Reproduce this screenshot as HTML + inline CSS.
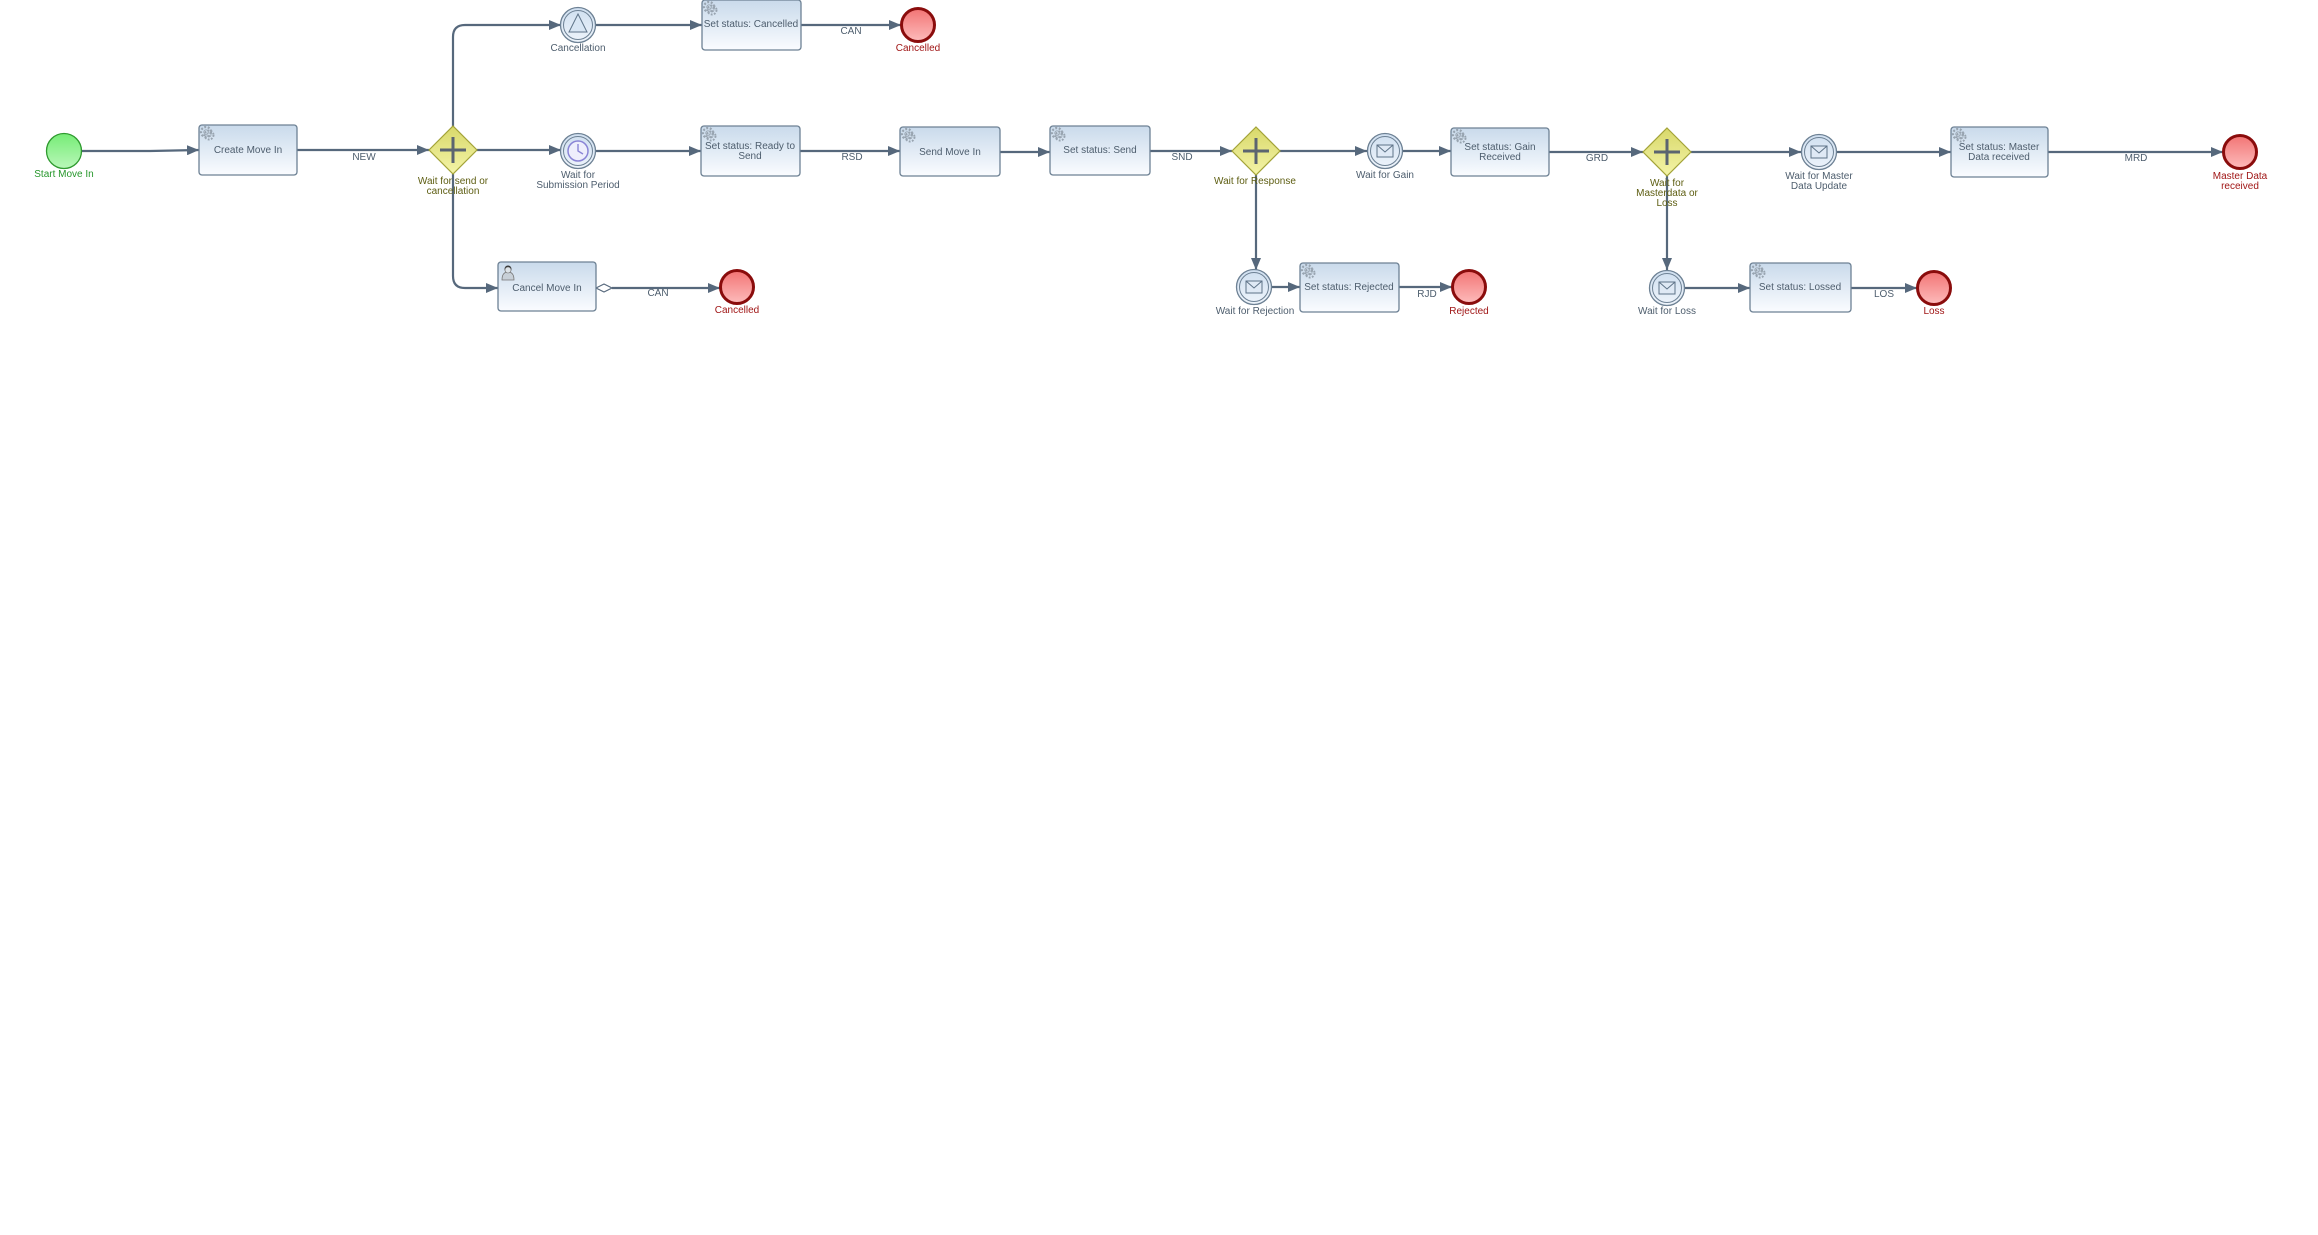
<!DOCTYPE html>
<html><head><meta charset="utf-8">
<style>
html,body{margin:0;padding:0;background:#fff;width:2318px;height:1235px;overflow:hidden}
svg{display:block}
text{font-family:"Liberation Sans",Arial,sans-serif;font-size:10px;fill:#4d5d6d}
.c{text-anchor:middle}
.gw{fill:#5e5e12}
.en{fill:#a01616}
.st{fill:#25962a}
.ln{stroke:#56687c;stroke-width:2.2;fill:none}
.box{fill:url(#gb);stroke:#6d8194;stroke-width:1.3}
</style></head><body>
<svg width="2318" height="1235" viewBox="0 0 2318 1235" xmlns="http://www.w3.org/2000/svg">
<defs>
<linearGradient id="gb" x1="0" y1="0" x2="0" y2="1"><stop offset="0" stop-color="#c9daeb"/><stop offset="1" stop-color="#fafcff"/></linearGradient>
<linearGradient id="gr" x1="0" y1="0" x2="0" y2="1"><stop offset="0" stop-color="#f27474"/><stop offset="1" stop-color="#fdbcbc"/></linearGradient>
<linearGradient id="gg" x1="0" y1="0" x2="0" y2="1"><stop offset="0" stop-color="#76ec76"/><stop offset="1" stop-color="#b9f7b9"/></linearGradient>
<linearGradient id="gy" x1="0" y1="0" x2="0" y2="1"><stop offset="0" stop-color="#d8d86a"/><stop offset="1" stop-color="#f4f4a8"/></linearGradient>
<linearGradient id="gc" x1="0" y1="0" x2="0" y2="1"><stop offset="0" stop-color="#cfdff0"/><stop offset="1" stop-color="#eef4fb"/></linearGradient>
<marker id="a" markerWidth="12" markerHeight="10" refX="12" refY="5" orient="auto" markerUnits="userSpaceOnUse"><path d="M0,0 L12,5 L0,10 z" fill="#56687c"/></marker>
<g id="gear"><circle r="5" fill="none" stroke="#98a4b0" stroke-width="2.2" stroke-dasharray="2 1.6"/><circle r="2.2" fill="none" stroke="#98a4b0" stroke-width="0.9"/></g>
<g id="gear2"><use href="#gear" x="6" y="6"/><use href="#gear" x="10" y="10" transform="scale(0.9)"/></g>
<g id="ic"><circle r="17.5" fill="url(#gc)" stroke="#6d8194" stroke-width="1.3"/><circle r="14.5" fill="none" stroke="#6d8194" stroke-width="1"/></g>
<g id="env"><use href="#ic"/><rect x="-8" y="-6" width="16" height="12" fill="#dfe9f5" stroke="#5e7388" stroke-width="1"/><path d="M-8,-6 L0,1 L8,-6" fill="none" stroke="#5e7388" stroke-width="1"/></g>
<g id="gate"><path d="M0,-24 L24,0 L0,24 L-24,0 z" fill="url(#gy)" stroke="#a3a338" stroke-width="1.2"/><path d="M-13,0 H13 M0,-13 V13" stroke="#5b6470" stroke-width="3"/></g>
<g id="end"><circle r="16.5" fill="url(#gr)" stroke="#8a0c0c" stroke-width="3"/></g>
</defs>

<!-- connectors -->
<path class="ln" d="M82,151 H150 L199,150" marker-end="url(#a)"/>
<path class="ln" d="M297,150 H429" marker-end="url(#a)"/>
<path class="ln" d="M477,150 H561" marker-end="url(#a)"/>
<path class="ln" d="M596,151 H701" marker-end="url(#a)"/>
<path class="ln" d="M453,127 V37 Q453,25 465,25 H561" marker-end="url(#a)"/>
<path class="ln" d="M596,25 H702" marker-end="url(#a)"/>
<path class="ln" d="M801,25 H901" marker-end="url(#a)"/>
<path class="ln" d="M453,174 V276 Q453,288 465,288 H498" marker-end="url(#a)"/>
<path class="ln" d="M612,288 H720" marker-end="url(#a)"/>
<path d="M596,288 L604,284 L612,288 L604,292 z" fill="#fff" stroke="#56687c" stroke-width="1.2"/>
<path class="ln" d="M800,151 H900" marker-end="url(#a)"/>
<path class="ln" d="M1000,152 H1050" marker-end="url(#a)"/>
<path class="ln" d="M1146,151 H1232" marker-end="url(#a)"/>
<path class="ln" d="M1280,151 H1367" marker-end="url(#a)"/>
<path class="ln" d="M1403,151 H1451" marker-end="url(#a)"/>
<path class="ln" d="M1256,175 V270" marker-end="url(#a)"/>
<path class="ln" d="M1272,287 H1300" marker-end="url(#a)"/>
<path class="ln" d="M1399,287 H1452" marker-end="url(#a)"/>
<path class="ln" d="M1549,152 H1643" marker-end="url(#a)"/>
<path class="ln" d="M1691,152 H1801" marker-end="url(#a)"/>
<path class="ln" d="M1837,152 H1951" marker-end="url(#a)"/>
<path class="ln" d="M2048,152 H2223" marker-end="url(#a)"/>
<path class="ln" d="M1667,176 V270" marker-end="url(#a)"/>
<path class="ln" d="M1685,288 H1750" marker-end="url(#a)"/>
<path class="ln" d="M1851,288 H1917" marker-end="url(#a)"/>

<!-- start -->
<circle cx="64" cy="151" r="17.5" fill="url(#gg)" stroke="#2f9a2f" stroke-width="1.3"/>
<text x="64" y="177" class="c st">Start Move In</text>

<!-- tasks -->
<rect class="box" x="199" y="125" width="98" height="50" rx="3"/><use href="#gear2" x="200" y="126"/>
<text x="248" y="153" class="c">Create Move In</text>

<rect class="box" x="702" y="0" width="99" height="50" rx="3"/><use href="#gear2" x="703" y="1"/>
<text x="751" y="27" class="c">Set status: Cancelled</text>

<rect class="box" x="701" y="126" width="99" height="50" rx="3"/><use href="#gear2" x="702" y="127"/>
<text x="750" y="149" class="c">Set status: Ready to</text><text x="750" y="159" class="c">Send</text>

<rect class="box" x="498" y="262" width="98" height="49" rx="3"/>
<g transform="translate(508,272)"><circle cx="0" cy="-3" r="3.5" fill="#333"/><path d="M-6,8 Q-6,0 0,0 Q6,0 6,8 z" fill="#c8d0d8" stroke="#777" stroke-width="0.8"/><circle cx="0" cy="-2" r="3" fill="#dde3e8" stroke="#777" stroke-width="0.6"/></g>
<text x="547" y="291" class="c">Cancel Move In</text>

<rect class="box" x="900" y="127" width="100" height="49" rx="3"/><use href="#gear2" x="901" y="128"/>
<text x="950" y="155" class="c">Send Move In</text>

<rect class="box" x="1050" y="126" width="100" height="49" rx="3"/><use href="#gear2" x="1051" y="127"/>
<text x="1100" y="153" class="c">Set status: Send</text>

<rect class="box" x="1451" y="128" width="98" height="48" rx="3"/><use href="#gear2" x="1452" y="129"/>
<text x="1500" y="150" class="c">Set status: Gain</text><text x="1500" y="160" class="c">Received</text>

<rect class="box" x="1300" y="263" width="99" height="49" rx="3"/><use href="#gear2" x="1301" y="264"/>
<text x="1349" y="290" class="c">Set status: Rejected</text>

<rect class="box" x="1951" y="127" width="97" height="50" rx="3"/><use href="#gear2" x="1952" y="128"/>
<text x="1999" y="150" class="c">Set status: Master</text><text x="1999" y="160" class="c">Data received</text>

<rect class="box" x="1750" y="263" width="101" height="49" rx="3"/><use href="#gear2" x="1751" y="264"/>
<text x="1800" y="290" class="c">Set status: Lossed</text>

<!-- gateways -->
<use href="#gate" x="453" y="150"/>
<text x="453" y="184" class="c gw">Wait for send or</text><text x="453" y="194" class="c gw">cancellation</text>
<use href="#gate" x="1256" y="151"/>
<text x="1255" y="184" class="c gw">Wait for Response</text>
<use href="#gate" x="1667" y="152"/>
<text x="1667" y="186" class="c gw">Wait for</text><text x="1667" y="196" class="c gw">Masterdata or</text><text x="1667" y="206" class="c gw">Loss</text>

<!-- intermediate events -->
<g transform="translate(578,25)"><use href="#ic"/><path d="M0,-11 L9,7 L-9,7 z" fill="#d8e6f4" stroke="#5e7388" stroke-width="1"/></g>
<text x="578" y="51" class="c">Cancellation</text>
<g transform="translate(578,151)"><use href="#ic"/><circle r="10" fill="#eeeefc" stroke="#8a84d6" stroke-width="1.5"/><path d="M0,-7 V0 L5,3" stroke="#8a84d6" stroke-width="1.4" fill="none"/></g>
<text x="578" y="178" class="c">Wait for</text><text x="578" y="188" class="c">Submission Period</text>
<use href="#env" x="1385" y="151"/><text x="1385" y="178" class="c">Wait for Gain</text>
<use href="#env" x="1254" y="287"/><text x="1255" y="314" class="c">Wait for Rejection</text>
<use href="#env" x="1819" y="152"/><text x="1819" y="179" class="c">Wait for Master</text><text x="1819" y="189" class="c">Data Update</text>
<use href="#env" x="1667" y="288"/><text x="1667" y="314" class="c">Wait for Loss</text>

<!-- end events -->
<use href="#end" x="918" y="25"/><text x="918" y="51" class="c en">Cancelled</text>
<use href="#end" x="737" y="287"/><text x="737" y="313" class="c en">Cancelled</text>
<use href="#end" x="1469" y="287"/><text x="1469" y="314" class="c en">Rejected</text>
<use href="#end" x="2240" y="152"/><text x="2240" y="179" class="c en">Master Data</text><text x="2240" y="189" class="c en">received</text>
<use href="#end" x="1934" y="288"/><text x="1934" y="314" class="c en">Loss</text>

<!-- connector labels -->
<text x="364" y="160" class="c">NEW</text>
<text x="851" y="34" class="c">CAN</text>
<text x="658" y="296" class="c">CAN</text>
<text x="852" y="160" class="c">RSD</text>
<text x="1182" y="160" class="c">SND</text>
<text x="1427" y="297" class="c">RJD</text>
<text x="1597" y="161" class="c">GRD</text>
<text x="2136" y="161" class="c">MRD</text>
<text x="1884" y="297" class="c">LOS</text>
</svg>
</body></html>
